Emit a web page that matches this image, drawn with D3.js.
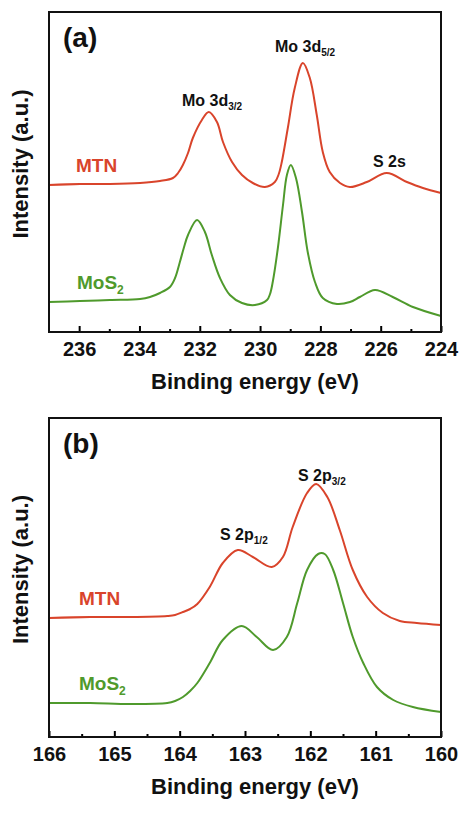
<!DOCTYPE html>
<html>
<head>
<meta charset="utf-8">
<script src="https://cdnjs.cloudflare.com/ajax/libs/d3/7.8.5/d3.min.js"></script>
<style>
  body { margin: 0; background: #fff; }
  text { font-family: "Liberation Sans", Arial, sans-serif; font-weight: bold; }
</style>
</head>
<body>
<div id="chart"></div>
<script>
// ---- data (binding energy in eV, intensity in a.u.) ----
// panel (a): Mo 3d / S 2s region
var moEnergyMTN = [237.00, 235.97, 234.98, 233.98, 233.32, 232.89, 232.72, 232.56, 232.39, 232.23,
                   231.93, 231.70, 231.43, 231.23, 230.93, 230.60, 230.24, 229.84, 229.51, 229.38,
                   229.28, 229.08, 228.85, 228.58, 228.35, 228.12, 227.92, 227.69, 227.35, 227.02,
                   226.46, 225.80, 225.13, 224.60, 224.00];
var moIntensityMTN = [147, 148, 148, 149, 151, 154, 159, 167, 179, 194,
                      212, 220, 210, 190, 170, 157, 149, 145, 150, 158,
                      170, 204, 244, 269, 254, 217, 180, 160, 149, 145,
                      150, 159, 150, 144, 139];
var moEnergyMoS2 = [237.00, 235.97, 234.98, 233.98, 233.65, 233.32, 232.99, 232.82, 232.66, 232.53,
                    232.39, 232.09, 231.83, 231.60, 231.33, 231.00, 230.60, 230.17, 229.77, 229.67,
                    229.58, 229.41, 229.24, 229.11, 228.98, 228.81, 228.61, 228.42, 228.18, 227.92,
                    227.45, 227.02, 226.69, 226.19, 225.60, 224.93, 224.00];
var moIntensityMoS2 = [30, 31, 32, 33, 35, 39, 45, 54, 70, 84,
                       97, 112, 100, 77, 54, 37, 29, 27, 32, 38,
                       50, 84, 127, 157, 167, 154, 120, 80, 50, 34,
                       28, 30, 35, 42, 35, 25, 16];

// panel (b): S 2p region
var sEnergyMTN = [166.00, 165.37, 164.76, 164.19, 164.07, 163.95, 163.84, 163.73, 163.54, 163.34,
                  163.11, 162.88, 162.59, 162.42, 162.27, 162.05, 161.91, 161.74, 161.55, 161.35,
                  161.13, 160.89, 160.63, 160.37, 160.00];
var sIntensityMTN = [119, 120, 120, 121, 122, 125, 128, 133, 150, 174,
                     187, 180, 170, 180, 210, 244, 253, 240, 207, 167,
                     140, 124, 116, 114, 112];
var sEnergyMoS2 = [166.00, 165.37, 164.76, 164.19, 164.07, 163.95, 163.84, 163.73, 163.54, 163.34,
                   163.05, 162.82, 162.57, 162.36, 162.20, 162.05, 161.88, 161.78, 161.65, 161.50,
                   161.35, 161.19, 160.98, 160.73, 160.43, 160.00];
var sIntensityMoS2 = [34, 34, 33, 34, 36, 40, 46, 54, 74, 97,
                      111, 100, 87, 100, 134, 167, 183, 183, 167, 134,
                      100, 74, 50, 37, 30, 25];

// axis ticks
var moMajorTicks = [236, 234, 232, 230, 228, 226, 224];
var moMinorTicks = [235, 233, 231, 229, 227, 225];
var sMajorTicks = [166, 165, 164, 163, 162, 161, 160];
var sMinorTicks = [165.5, 164.5, 163.5, 162.5, 161.5, 160.5];

var red = "#d9442b", green = "#4f9a2c";

var svg = d3.select("#chart").append("svg")
    .attr("width", 464)
    .attr("height", 813);

function zip(xs, ys) {
    return xs.map((x, i) => ({e: x, v: ys[i]}));
}

function drawPanel(p) {
    var left = 49, right = 441;
    var x = d3.scaleLinear().domain(p.xDomain).range([left, right]);
    var y = d3.scaleLinear().domain(p.yDomain).range([p.bottom, p.top]);

    var g = svg.append("g");

    // curves
    var line = d3.line()
        .x(d => x(d.e))
        .y(d => y(d.v))
        .curve(d3.curveCatmullRom.alpha(0.5));

    p.series.forEach(s => {
        g.append("path")
            .datum(zip(s.energy, s.intensity))
            .attr("d", line)
            .attr("fill", "none")
            .attr("stroke", s.color)
            .attr("stroke-width", 2);
    });

    // minor ticks
    g.append("g")
        .attr("transform", "translate(0," + p.bottom + ")")
        .call(d3.axisBottom(x).tickValues(p.minor).tickSize(-3).tickFormat(""))
        .call(a => a.select(".domain").remove())
        .call(a => a.selectAll("line").attr("stroke-width", 2));

    // major ticks
    var ax = g.append("g")
        .attr("transform", "translate(0," + p.bottom + ")")
        .call(d3.axisBottom(x).tickValues(p.major).tickSize(-6).tickPadding(10).tickFormat(d3.format("d")));
    ax.select(".domain").remove();
    ax.selectAll("line").attr("stroke-width", 2);
    ax.selectAll("text")
        .style("font-size", "20px")
        .style("font-family", "'Liberation Sans', Arial, sans-serif")
        .style("font-weight", "bold")
        .attr("fill", "#111");

    // frame
    g.append("rect")
        .attr("x", left)
        .attr("y", p.top)
        .attr("width", right - left)
        .attr("height", p.bottom - p.top)
        .attr("fill", "none")
        .attr("stroke", "#111")
        .attr("stroke-width", 2);

    // x axis title
    g.append("text")
        .attr("x", (left + right) / 2 + 10)
        .attr("y", p.bottom + 57)
        .attr("text-anchor", "middle")
        .style("font-size", "22px")
        .attr("fill", "#111")
        .text("Binding energy (eV)");

    // y axis title
    g.append("text")
        .attr("transform", "translate(28," + ((p.top + p.bottom) / 2 - 8) + ") rotate(-90)")
        .attr("text-anchor", "middle")
        .style("font-size", "22px")
        .attr("fill", "#111")
        .text("Intensity (a.u.)");

    // panel letter
    g.append("text")
        .attr("x", 63)
        .attr("y", p.top + 35)
        .style("font-size", "28px")
        .attr("fill", "#111")
        .text(p.letter);

    // peak labels
    p.labels.forEach(l => {
        var t = g.append("text")
            .attr("x", l.x)
            .attr("y", l.y)
            .style("font-size", l.size + "px")
            .attr("fill", l.color || "#111")
            .text(l.text);
        if (l.sub) {
            t.append("tspan")
                .attr("dy", l.subDy)
                .style("font-size", l.subSize + "px")
                .text(l.sub);
        }
    });
}

drawPanel({
    letter: "(a)",
    top: 12, bottom: 332,
    xDomain: [237, 224], yDomain: [0, 320],
    major: moMajorTicks, minor: moMinorTicks,
    series: [
        {energy: moEnergyMTN, intensity: moIntensityMTN, color: red},
        {energy: moEnergyMoS2, intensity: moIntensityMoS2, color: green}
    ],
    labels: [
        {text: "Mo 3d", sub: "5/2", x: 275, y: 52, size: 16, subSize: 10, subDy: 4},
        {text: "Mo 3d", sub: "3/2", x: 182, y: 106, size: 16, subSize: 10, subDy: 4},
        {text: "S 2s", x: 373, y: 167, size: 16},
        {text: "MTN", x: 76, y: 172, size: 19, color: red},
        {text: "MoS", sub: "2", x: 77, y: 289, size: 19, subSize: 12, subDy: 5, color: green}
    ]
});

drawPanel({
    letter: "(b)",
    top: 418, bottom: 737,
    xDomain: [166, 160], yDomain: [0, 319],
    major: sMajorTicks, minor: sMinorTicks,
    series: [
        {energy: sEnergyMTN, intensity: sIntensityMTN, color: red},
        {energy: sEnergyMoS2, intensity: sIntensityMoS2, color: green}
    ],
    labels: [
        {text: "S 2p", sub: "3/2", x: 298, y: 481, size: 16, subSize: 10, subDy: 4},
        {text: "S 2p", sub: "1/2", x: 220, y: 540, size: 16, subSize: 10, subDy: 4},
        {text: "MTN", x: 79, y: 605, size: 19, color: red},
        {text: "MoS", sub: "2", x: 79, y: 690, size: 19, subSize: 12, subDy: 5, color: green}
    ]
});
</script>
</body>
</html>
